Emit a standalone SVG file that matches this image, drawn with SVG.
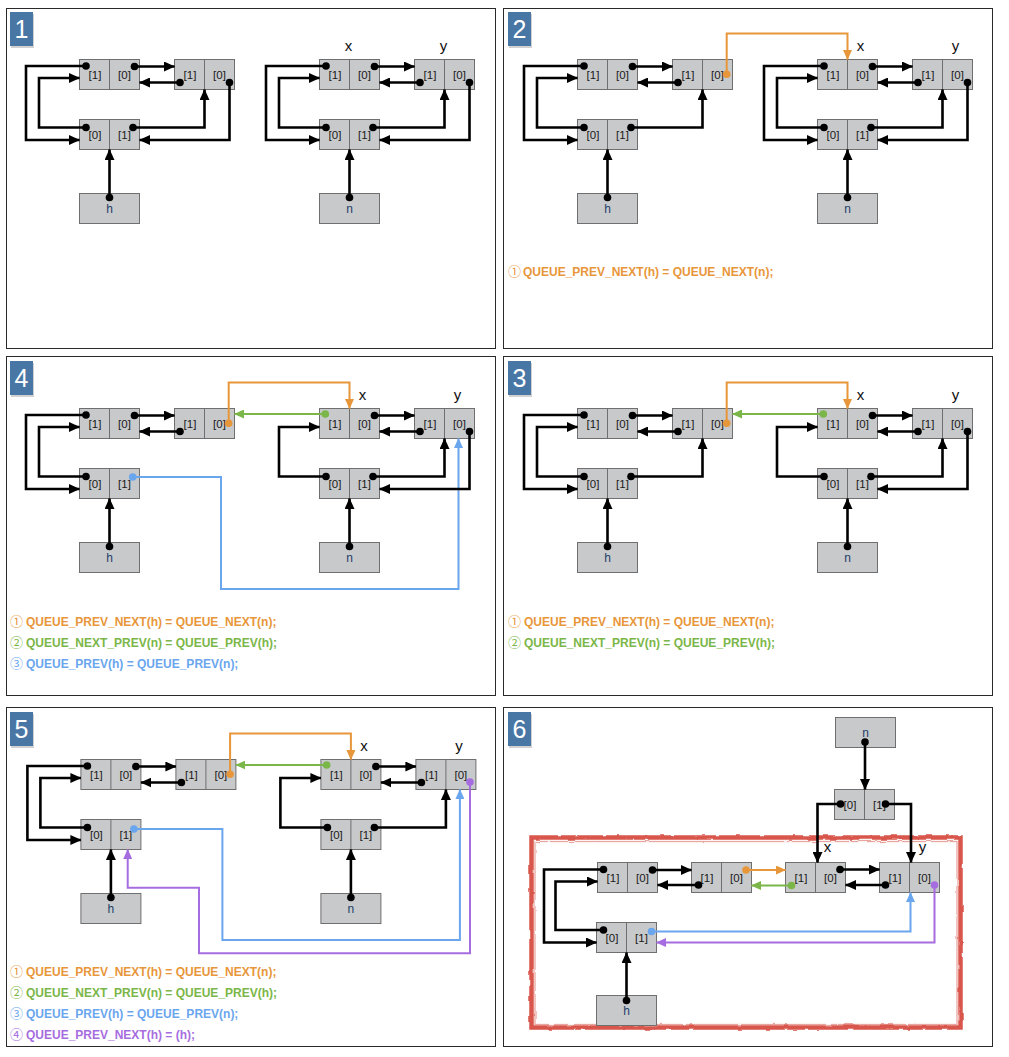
<svg xmlns="http://www.w3.org/2000/svg" width="1009" height="1057" viewBox="0 0 1009 1057">
<style>
.fr{fill:none;stroke:#2a2a2a;stroke-width:1}
.bx{fill:#c8c9cb;stroke:#6f6f6f;stroke-width:1}
.dv{fill:none;stroke:#6f6f6f;stroke-width:1}
.lb{font-family:"Liberation Sans",Arial,sans-serif;font-size:11.5px;fill:#1a1a1a;text-anchor:middle}
.nm{font-family:"Liberation Sans",Arial,sans-serif;font-size:12px;fill:#1d4068;text-anchor:middle}
.xy{font-family:"Liberation Sans",Arial,sans-serif;font-size:15px;fill:#111;text-anchor:middle}
.bn{font-family:"Liberation Sans",Arial,sans-serif;font-size:25px;fill:#fff;text-anchor:middle}
.bg{fill:#4877a6}
.bs{fill:#000;opacity:.18}
.k{fill:none;stroke:#000;stroke-width:2.6;marker-end:url(#ak)}
.o{fill:none;stroke:#e8963a;stroke-width:2;marker-end:url(#ao)}
.g{fill:none;stroke:#7ab648;stroke-width:2;marker-end:url(#ag)}
.b{fill:none;stroke:#6aa6ee;stroke-width:2;marker-end:url(#ab)}
.p{fill:none;stroke:#a66de0;stroke-width:2;marker-end:url(#ap)}
.dk{fill:#000}.do{fill:#e8963a}.dg{fill:#7ab648}.db{fill:#6aa6ee}.dp{fill:#a66de0}
.t{font-family:"Liberation Sans",Arial,"DejaVu Sans","Noto Sans CJK SC",sans-serif;font-size:12px;font-weight:bold}
.c{font-weight:normal;font-family:"Noto Sans CJK SC","DejaVu Sans",sans-serif;font-size:13px}
.to{fill:#e8963a}.tg{fill:#7ab648}.tb{fill:#6aa6ee}.tp{fill:#a66de0}
</style>
<defs>
<marker id="ak" markerUnits="userSpaceOnUse" markerWidth="11" markerHeight="10" viewBox="0 0 11 10" refX="10.5" refY="5" orient="auto"><path d="M0,0L11,5L0,10z" fill="#000"/></marker>
<marker id="ao" markerUnits="userSpaceOnUse" markerWidth="10" markerHeight="9" viewBox="0 0 10 9" refX="9.5" refY="4.5" orient="auto"><path d="M0,0L10,4.5L0,9z" fill="#e8963a"/></marker>
<marker id="ag" markerUnits="userSpaceOnUse" markerWidth="10" markerHeight="9" viewBox="0 0 10 9" refX="9.5" refY="4.5" orient="auto"><path d="M0,0L10,4.5L0,9z" fill="#7ab648"/></marker>
<marker id="ab" markerUnits="userSpaceOnUse" markerWidth="10" markerHeight="9" viewBox="0 0 10 9" refX="9.5" refY="4.5" orient="auto"><path d="M0,0L10,4.5L0,9z" fill="#6aa6ee"/></marker>
<marker id="ap" markerUnits="userSpaceOnUse" markerWidth="10" markerHeight="9" viewBox="0 0 10 9" refX="9.5" refY="4.5" orient="auto"><path d="M0,0L10,4.5L0,9z" fill="#a66de0"/></marker>
<filter id="rough" x="-5%" y="-5%" width="110%" height="110%"><feTurbulence type="fractalNoise" baseFrequency="0.09" numOctaves="2" seed="4"/><feDisplacementMap in="SourceGraphic" scale="3"/></filter>
</defs>
<rect width="1009" height="1057" fill="#fff"/>

<g id="frames">
<rect class="fr" x="6.5" y="8.5" width="489" height="340"/>
<rect class="fr" x="503.5" y="8.5" width="489" height="340"/>
<rect class="fr" x="6.5" y="356.5" width="489" height="339"/>
<rect class="fr" x="503.5" y="356.5" width="489" height="339"/>
<rect class="fr" x="6.5" y="707.5" width="489" height="339"/>
<rect class="fr" x="503.5" y="707.5" width="489" height="339"/>
</g>

<g id="badges">
<g id="badge1"><rect class="bs" x="11" y="14" width="23" height="34"/><rect class="bg" x="10" y="12" width="23" height="34"/><text class="bn" x="21.5" y="38">1</text></g>
<g id="badge2"><rect class="bs" x="509" y="14" width="23" height="34"/><rect class="bg" x="508" y="12" width="23" height="34"/><text class="bn" x="519.5" y="38">2</text></g>
<g id="badge4"><rect class="bs" x="11" y="363" width="23" height="34"/><rect class="bg" x="10" y="361" width="23" height="34"/><text class="bn" x="21.5" y="387">4</text></g>
<g id="badge3"><rect class="bs" x="509" y="363" width="23" height="34"/><rect class="bg" x="508" y="361" width="23" height="34"/><text class="bn" x="519.5" y="387">3</text></g>
<g id="badge5"><rect class="bs" x="11" y="714" width="23" height="34"/><rect class="bg" x="10" y="712" width="23" height="34"/><text class="bn" x="21.5" y="738">5</text></g>
<g id="badge6"><rect class="bs" x="509" y="714" width="23" height="34"/><rect class="bg" x="508" y="712" width="23" height="34"/><text class="bn" x="519.5" y="738">6</text></g>
</g>

<!-- PANEL 1 -->
<g id="panel1">
<g id="p1-nodes">
<g id="p1-a"><rect class="bx" x="79.5" y="59.5" width="60" height="30"/><path class="dv" d="M109.5 59.5V89.5"/><text class="lb" x="95" y="78.5">[1]</text><text class="lb" x="124.5" y="78.5">[0]</text></g>
<g id="p1-b"><rect class="bx" x="174.5" y="59.5" width="60" height="30"/><path class="dv" d="M204.5 59.5V89.5"/><text class="lb" x="190" y="78.5">[1]</text><text class="lb" x="219.5" y="78.5">[0]</text></g>
<g id="p1-c"><rect class="bx" x="79.5" y="119.5" width="60" height="30"/><path class="dv" d="M109.5 119.5V149.5"/><text class="lb" x="95" y="138.5">[0]</text><text class="lb" x="124.5" y="138.5">[1]</text></g>
<g id="p1-h"><rect class="bx" x="79.5" y="193.5" width="60" height="30"/><text class="nm" x="109.5" y="212.5">h</text></g>
<g id="p1-x"><rect class="bx" x="319.5" y="59.5" width="60" height="30"/><path class="dv" d="M349.5 59.5V89.5"/><text class="lb" x="335" y="78.5">[1]</text><text class="lb" x="364.5" y="78.5">[0]</text></g>
<g id="p1-y"><rect class="bx" x="414.5" y="59.5" width="60" height="30"/><path class="dv" d="M444.5 59.5V89.5"/><text class="lb" x="430" y="78.5">[1]</text><text class="lb" x="459.5" y="78.5">[0]</text></g>
<g id="p1-d"><rect class="bx" x="319.5" y="119.5" width="60" height="30"/><path class="dv" d="M349.5 119.5V149.5"/><text class="lb" x="335" y="138.5">[0]</text><text class="lb" x="364.5" y="138.5">[1]</text></g>
<g id="p1-n"><rect class="bx" x="319.5" y="193.5" width="60" height="30"/><text class="nm" x="349.5" y="212.5">n</text></g>
<text class="xy" x="348.5" y="51">x</text><text class="xy" x="443.5" y="51">y</text>
</g>
<g id="p1-connectors">
<path class="k" d="M86 66H26V140H79.5"/><circle class="dk" cx="86" cy="66" r="3.8"/>
<path class="k" d="M86 127.5H39V78H79.5"/><circle class="dk" cx="86" cy="127.5" r="3.8"/>
<path class="k" d="M134.5 66.5H174.5"/><circle class="dk" cx="134.5" cy="66.5" r="3.8"/>
<path class="k" d="M180 82.5H139.5"/><circle class="dk" cx="180" cy="82.5" r="3.8"/>
<path class="k" d="M229.5 82.5V140H139.5"/><circle class="dk" cx="229.5" cy="82.5" r="3.8"/>
<path class="k" d="M133 127.5H204.5V89.5"/><circle class="dk" cx="133" cy="127.5" r="3.8"/>
<path class="k" d="M109.5 197.5V149.5"/><circle class="dk" cx="109.5" cy="197.5" r="3.8"/>
<path class="k" d="M326 66H266V140H319.5"/><circle class="dk" cx="326" cy="66" r="3.8"/>
<path class="k" d="M326 127.5H279V78H319.5"/><circle class="dk" cx="326" cy="127.5" r="3.8"/>
<path class="k" d="M374.5 66.5H414.5"/><circle class="dk" cx="374.5" cy="66.5" r="3.8"/>
<path class="k" d="M420 82.5H379.5"/><circle class="dk" cx="420" cy="82.5" r="3.8"/>
<path class="k" d="M469.5 82.5V140H379.5"/><circle class="dk" cx="469.5" cy="82.5" r="3.8"/>
<path class="k" d="M373 127.5H444.5V89.5"/><circle class="dk" cx="373" cy="127.5" r="3.8"/>
<path class="k" d="M349.5 197.5V149.5"/><circle class="dk" cx="349.5" cy="197.5" r="3.8"/>
</g>
</g>

<!-- PANEL 2 -->
<g id="panel2" transform="translate(498,0)">
<g id="p2-nodes">
<g id="p2-a"><rect class="bx" x="79.5" y="59.5" width="60" height="30"/><path class="dv" d="M109.5 59.5V89.5"/><text class="lb" x="95" y="78.5">[1]</text><text class="lb" x="124.5" y="78.5">[0]</text></g>
<g id="p2-b"><rect class="bx" x="174.5" y="59.5" width="60" height="30"/><path class="dv" d="M204.5 59.5V89.5"/><text class="lb" x="190" y="78.5">[1]</text><text class="lb" x="219.5" y="78.5">[0]</text></g>
<g id="p2-c"><rect class="bx" x="79.5" y="119.5" width="60" height="30"/><path class="dv" d="M109.5 119.5V149.5"/><text class="lb" x="95" y="138.5">[0]</text><text class="lb" x="124.5" y="138.5">[1]</text></g>
<g id="p2-h"><rect class="bx" x="79.5" y="193.5" width="60" height="30"/><text class="nm" x="109.5" y="212.5">h</text></g>
<g id="p2-x"><rect class="bx" x="319.5" y="59.5" width="60" height="30"/><path class="dv" d="M349.5 59.5V89.5"/><text class="lb" x="335" y="78.5">[1]</text><text class="lb" x="364.5" y="78.5">[0]</text></g>
<g id="p2-y"><rect class="bx" x="414.5" y="59.5" width="60" height="30"/><path class="dv" d="M444.5 59.5V89.5"/><text class="lb" x="430" y="78.5">[1]</text><text class="lb" x="459.5" y="78.5">[0]</text></g>
<g id="p2-d"><rect class="bx" x="319.5" y="119.5" width="60" height="30"/><path class="dv" d="M349.5 119.5V149.5"/><text class="lb" x="335" y="138.5">[0]</text><text class="lb" x="364.5" y="138.5">[1]</text></g>
<g id="p2-n"><rect class="bx" x="319.5" y="193.5" width="60" height="30"/><text class="nm" x="349.5" y="212.5">n</text></g>
<text class="xy" x="362.5" y="51">x</text><text class="xy" x="457.5" y="51">y</text>
</g>
<g id="p2-connectors">
<path class="k" d="M86 66H26V140H79.5"/><circle class="dk" cx="86" cy="66" r="3.8"/>
<path class="k" d="M86 127.5H39V78H79.5"/><circle class="dk" cx="86" cy="127.5" r="3.8"/>
<path class="k" d="M134.5 66.5H174.5"/><circle class="dk" cx="134.5" cy="66.5" r="3.8"/>
<path class="k" d="M180 82.5H139.5"/><circle class="dk" cx="180" cy="82.5" r="3.8"/>
<path class="k" d="M133 127.5H204.5V89.5"/><circle class="dk" cx="133" cy="127.5" r="3.8"/>
<path class="k" d="M109.5 197.5V149.5"/><circle class="dk" cx="109.5" cy="197.5" r="3.8"/>
<path class="o" d="M228.7 74.3V33.5H349.5V59.5"/><circle class="do" cx="228.7" cy="74.3" r="3.8"/>
<path class="k" d="M326 66H266V140H319.5"/><circle class="dk" cx="326" cy="66" r="3.8"/>
<path class="k" d="M326 127.5H279V78H319.5"/><circle class="dk" cx="326" cy="127.5" r="3.8"/>
<path class="k" d="M374.5 66.5H414.5"/><circle class="dk" cx="374.5" cy="66.5" r="3.8"/>
<path class="k" d="M420 82.5H379.5"/><circle class="dk" cx="420" cy="82.5" r="3.8"/>
<path class="k" d="M469.5 82.5V140H379.5"/><circle class="dk" cx="469.5" cy="82.5" r="3.8"/>
<path class="k" d="M373 127.5H444.5V89.5"/><circle class="dk" cx="373" cy="127.5" r="3.8"/>
<path class="k" d="M349.5 197.5V149.5"/><circle class="dk" cx="349.5" cy="197.5" r="3.8"/>
</g>
</g>

<!-- PANEL 4 -->
<g id="panel4" transform="translate(0,349)">
<g id="p4-nodes">
<g id="p4-a"><rect class="bx" x="79.5" y="59.5" width="60" height="30"/><path class="dv" d="M109.5 59.5V89.5"/><text class="lb" x="95" y="78.5">[1]</text><text class="lb" x="124.5" y="78.5">[0]</text></g>
<g id="p4-b"><rect class="bx" x="174.5" y="59.5" width="60" height="30"/><path class="dv" d="M204.5 59.5V89.5"/><text class="lb" x="190" y="78.5">[1]</text><text class="lb" x="219.5" y="78.5">[0]</text></g>
<g id="p4-c"><rect class="bx" x="79.5" y="119.5" width="60" height="30"/><path class="dv" d="M109.5 119.5V149.5"/><text class="lb" x="95" y="138.5">[0]</text><text class="lb" x="124.5" y="138.5">[1]</text></g>
<g id="p4-h"><rect class="bx" x="79.5" y="193.5" width="60" height="30"/><text class="nm" x="109.5" y="212.5">h</text></g>
<g id="p4-x"><rect class="bx" x="319.5" y="59.5" width="60" height="30"/><path class="dv" d="M349.5 59.5V89.5"/><text class="lb" x="335" y="78.5">[1]</text><text class="lb" x="364.5" y="78.5">[0]</text></g>
<g id="p4-y"><rect class="bx" x="414.5" y="59.5" width="60" height="30"/><path class="dv" d="M444.5 59.5V89.5"/><text class="lb" x="430" y="78.5">[1]</text><text class="lb" x="459.5" y="78.5">[0]</text></g>
<g id="p4-d"><rect class="bx" x="319.5" y="119.5" width="60" height="30"/><path class="dv" d="M349.5 119.5V149.5"/><text class="lb" x="335" y="138.5">[0]</text><text class="lb" x="364.5" y="138.5">[1]</text></g>
<g id="p4-n"><rect class="bx" x="319.5" y="193.5" width="60" height="30"/><text class="nm" x="349.5" y="212.5">n</text></g>
<text class="xy" x="362.5" y="51">x</text><text class="xy" x="457.5" y="51">y</text>
</g>
<g id="p4-connectors">
<path class="k" d="M86 66H26V140H79.5"/><circle class="dk" cx="86" cy="66" r="3.8"/>
<path class="k" d="M86 127.5H39V78H79.5"/><circle class="dk" cx="86" cy="127.5" r="3.8"/>
<path class="k" d="M134.5 66.5H174.5"/><circle class="dk" cx="134.5" cy="66.5" r="3.8"/>
<path class="k" d="M180 82.5H139.5"/><circle class="dk" cx="180" cy="82.5" r="3.8"/>
<path class="k" d="M109.5 197.5V149.5"/><circle class="dk" cx="109.5" cy="197.5" r="3.8"/>
<path class="o" d="M228.7 74.3V33.5H349.5V59.5"/><circle class="do" cx="228.7" cy="74.3" r="3.8"/>
<path class="g" d="M325.3 65H234.5"/><circle class="dg" cx="325.3" cy="65" r="3.8"/>
<path class="b" d="M132.7 128H221V240H458.5V89.5"/><circle class="db" cx="132.7" cy="128" r="3.8"/>
<path class="k" d="M326 127.5H279V78H319.5"/><circle class="dk" cx="326" cy="127.5" r="3.8"/>
<path class="k" d="M374.5 66.5H414.5"/><circle class="dk" cx="374.5" cy="66.5" r="3.8"/>
<path class="k" d="M420 82.5H379.5"/><circle class="dk" cx="420" cy="82.5" r="3.8"/>
<path class="k" d="M469.5 82.5V140H379.5"/><circle class="dk" cx="469.5" cy="82.5" r="3.8"/>
<path class="k" d="M373 127.5H444.5V89.5"/><circle class="dk" cx="373" cy="127.5" r="3.8"/>
<path class="k" d="M349.5 197.5V149.5"/><circle class="dk" cx="349.5" cy="197.5" r="3.8"/>
</g>
</g>

<!-- PANEL 3 -->
<g id="panel3" transform="translate(498,349)">
<g id="p3-nodes">
<g id="p3-a"><rect class="bx" x="79.5" y="59.5" width="60" height="30"/><path class="dv" d="M109.5 59.5V89.5"/><text class="lb" x="95" y="78.5">[1]</text><text class="lb" x="124.5" y="78.5">[0]</text></g>
<g id="p3-b"><rect class="bx" x="174.5" y="59.5" width="60" height="30"/><path class="dv" d="M204.5 59.5V89.5"/><text class="lb" x="190" y="78.5">[1]</text><text class="lb" x="219.5" y="78.5">[0]</text></g>
<g id="p3-c"><rect class="bx" x="79.5" y="119.5" width="60" height="30"/><path class="dv" d="M109.5 119.5V149.5"/><text class="lb" x="95" y="138.5">[0]</text><text class="lb" x="124.5" y="138.5">[1]</text></g>
<g id="p3-h"><rect class="bx" x="79.5" y="193.5" width="60" height="30"/><text class="nm" x="109.5" y="212.5">h</text></g>
<g id="p3-x"><rect class="bx" x="319.5" y="59.5" width="60" height="30"/><path class="dv" d="M349.5 59.5V89.5"/><text class="lb" x="335" y="78.5">[1]</text><text class="lb" x="364.5" y="78.5">[0]</text></g>
<g id="p3-y"><rect class="bx" x="414.5" y="59.5" width="60" height="30"/><path class="dv" d="M444.5 59.5V89.5"/><text class="lb" x="430" y="78.5">[1]</text><text class="lb" x="459.5" y="78.5">[0]</text></g>
<g id="p3-d"><rect class="bx" x="319.5" y="119.5" width="60" height="30"/><path class="dv" d="M349.5 119.5V149.5"/><text class="lb" x="335" y="138.5">[0]</text><text class="lb" x="364.5" y="138.5">[1]</text></g>
<g id="p3-n"><rect class="bx" x="319.5" y="193.5" width="60" height="30"/><text class="nm" x="349.5" y="212.5">n</text></g>
<text class="xy" x="362.5" y="51">x</text><text class="xy" x="457.5" y="51">y</text>
</g>
<g id="p3-connectors">
<path class="k" d="M86 66H26V140H79.5"/><circle class="dk" cx="86" cy="66" r="3.8"/>
<path class="k" d="M86 127.5H39V78H79.5"/><circle class="dk" cx="86" cy="127.5" r="3.8"/>
<path class="k" d="M134.5 66.5H174.5"/><circle class="dk" cx="134.5" cy="66.5" r="3.8"/>
<path class="k" d="M180 82.5H139.5"/><circle class="dk" cx="180" cy="82.5" r="3.8"/>
<path class="k" d="M133 127.5H204.5V89.5"/><circle class="dk" cx="133" cy="127.5" r="3.8"/>
<path class="k" d="M109.5 197.5V149.5"/><circle class="dk" cx="109.5" cy="197.5" r="3.8"/>
<path class="o" d="M228.7 74.3V33.5H349.5V59.5"/><circle class="do" cx="228.7" cy="74.3" r="3.8"/>
<path class="g" d="M325.3 65H234.5"/><circle class="dg" cx="325.3" cy="65" r="3.8"/>
<path class="k" d="M326 127.5H279V78H319.5"/><circle class="dk" cx="326" cy="127.5" r="3.8"/>
<path class="k" d="M374.5 66.5H414.5"/><circle class="dk" cx="374.5" cy="66.5" r="3.8"/>
<path class="k" d="M420 82.5H379.5"/><circle class="dk" cx="420" cy="82.5" r="3.8"/>
<path class="k" d="M469.5 82.5V140H379.5"/><circle class="dk" cx="469.5" cy="82.5" r="3.8"/>
<path class="k" d="M373 127.5H444.5V89.5"/><circle class="dk" cx="373" cy="127.5" r="3.8"/>
<path class="k" d="M349.5 197.5V149.5"/><circle class="dk" cx="349.5" cy="197.5" r="3.8"/>
</g>
</g>

<!-- PANEL 5 -->
<g id="panel5" transform="translate(1.4,700)">
<g id="p5-nodes">
<g id="p5-a"><rect class="bx" x="79.5" y="59.5" width="60" height="30"/><path class="dv" d="M109.5 59.5V89.5"/><text class="lb" x="95" y="78.5">[1]</text><text class="lb" x="124.5" y="78.5">[0]</text></g>
<g id="p5-b"><rect class="bx" x="174.5" y="59.5" width="60" height="30"/><path class="dv" d="M204.5 59.5V89.5"/><text class="lb" x="190" y="78.5">[1]</text><text class="lb" x="219.5" y="78.5">[0]</text></g>
<g id="p5-c"><rect class="bx" x="79.5" y="119.5" width="60" height="30"/><path class="dv" d="M109.5 119.5V149.5"/><text class="lb" x="95" y="138.5">[0]</text><text class="lb" x="124.5" y="138.5">[1]</text></g>
<g id="p5-h"><rect class="bx" x="79.5" y="193.5" width="60" height="30"/><text class="nm" x="109.5" y="212.5">h</text></g>
<g id="p5-x"><rect class="bx" x="319.5" y="59.5" width="60" height="30"/><path class="dv" d="M349.5 59.5V89.5"/><text class="lb" x="335" y="78.5">[1]</text><text class="lb" x="364.5" y="78.5">[0]</text></g>
<g id="p5-y"><rect class="bx" x="414.5" y="59.5" width="60" height="30"/><path class="dv" d="M444.5 59.5V89.5"/><text class="lb" x="430" y="78.5">[1]</text><text class="lb" x="459.5" y="78.5">[0]</text></g>
<g id="p5-d"><rect class="bx" x="319.5" y="119.5" width="60" height="30"/><path class="dv" d="M349.5 119.5V149.5"/><text class="lb" x="335" y="138.5">[0]</text><text class="lb" x="364.5" y="138.5">[1]</text></g>
<g id="p5-n"><rect class="bx" x="319.5" y="193.5" width="60" height="30"/><text class="nm" x="349.5" y="212.5">n</text></g>
<text class="xy" x="362.5" y="51">x</text><text class="xy" x="457.5" y="51">y</text>
</g>
<g id="p5-connectors">
<path class="k" d="M86 66H26V140H79.5"/><circle class="dk" cx="86" cy="66" r="3.8"/>
<path class="k" d="M86 127.5H39V78H79.5"/><circle class="dk" cx="86" cy="127.5" r="3.8"/>
<path class="k" d="M134.5 66.5H174.5"/><circle class="dk" cx="134.5" cy="66.5" r="3.8"/>
<path class="k" d="M180 82.5H139.5"/><circle class="dk" cx="180" cy="82.5" r="3.8"/>
<path class="k" d="M109.5 197.5V149.5"/><circle class="dk" cx="109.5" cy="197.5" r="3.8"/>
<path class="o" d="M228.7 74.3V33.5H349.5V59.5"/><circle class="do" cx="228.7" cy="74.3" r="3.8"/>
<path class="g" d="M325.3 65H234.5"/><circle class="dg" cx="325.3" cy="65" r="3.8"/>
<path class="b" d="M132.5 129H221V240H458.5V89.5"/><circle class="db" cx="132.5" cy="129" r="3.8"/>
<path class="p" d="M468.6 82V253.3H197.6V187.7H126.3V149.5"/><circle class="dp" cx="468.6" cy="82" r="3.8"/>
<path class="k" d="M326 127.5H279V78H319.5"/><circle class="dk" cx="326" cy="127.5" r="3.8"/>
<path class="k" d="M374.5 66.5H414.5"/><circle class="dk" cx="374.5" cy="66.5" r="3.8"/>
<path class="k" d="M420 82.5H379.5"/><circle class="dk" cx="420" cy="82.5" r="3.8"/>
<path class="k" d="M373 127.5H444.5V89.5"/><circle class="dk" cx="373" cy="127.5" r="3.8"/>
<path class="k" d="M349.5 197.5V149.5"/><circle class="dk" cx="349.5" cy="197.5" r="3.8"/>
</g>
</g>

<!-- PANEL 6 -->
<g id="panel6">
<g id="p6-frame-mark" filter="url(#rough)">
<rect x="531.5" y="837.5" width="429" height="190" fill="none" stroke="#d9574d" stroke-width="4.5"/>
<rect x="535" y="841.5" width="422" height="183" fill="none" stroke="#e08078" stroke-width="1.3" opacity=".7"/>
</g>
<g id="p6-nodes">
<g id="p6-n"><rect class="bx" x="835.5" y="717.5" width="60" height="30"/><text class="nm" x="865.5" y="736.5">n</text></g>
<g id="p6-m"><rect class="bx" x="834.5" y="789.5" width="60" height="30"/><path class="dv" d="M864.5 789.5V819.5"/><text class="lb" x="850" y="808.5">[0]</text><text class="lb" x="879.5" y="808.5">[1]</text></g>
<g id="p6-a"><rect class="bx" x="597.5" y="862.5" width="60" height="30"/><path class="dv" d="M627.5 862.5V892.5"/><text class="lb" x="613" y="881.5">[1]</text><text class="lb" x="642.5" y="881.5">[0]</text></g>
<g id="p6-b"><rect class="bx" x="691.5" y="862.5" width="60" height="30"/><path class="dv" d="M721.5 862.5V892.5"/><text class="lb" x="707" y="881.5">[1]</text><text class="lb" x="736.5" y="881.5">[0]</text></g>
<g id="p6-x"><rect class="bx" x="785.5" y="862.5" width="60" height="30"/><path class="dv" d="M815.5 862.5V892.5"/><text class="lb" x="801" y="881.5">[1]</text><text class="lb" x="830.5" y="881.5">[0]</text></g>
<g id="p6-y"><rect class="bx" x="879.5" y="862.5" width="60" height="30"/><path class="dv" d="M909.5 862.5V892.5"/><text class="lb" x="895" y="881.5">[1]</text><text class="lb" x="924.5" y="881.5">[0]</text></g>
<g id="p6-c"><rect class="bx" x="596.5" y="922.5" width="60" height="30"/><path class="dv" d="M626.5 922.5V952.5"/><text class="lb" x="612" y="941.5">[0]</text><text class="lb" x="641.5" y="941.5">[1]</text></g>
<g id="p6-h"><rect class="bx" x="596.5" y="995.5" width="60" height="30"/><text class="nm" x="626.5" y="1014.5">h</text></g>
<text class="xy" x="827.5" y="852">x</text><text class="xy" x="922.5" y="852">y</text>
</g>
<g id="p6-connectors">
<path class="k" d="M865 742V789.5"/><circle class="dk" cx="865" cy="742" r="3.8"/>
<path class="k" d="M840.5 804H817.5V862.5"/><circle class="dk" cx="840.5" cy="804" r="3.8"/>
<path class="k" d="M885.5 804H911V862.5"/><circle class="dk" cx="885.5" cy="804" r="3.8"/>
<path class="k" d="M840 869.5H879.5"/><circle class="dk" cx="840" cy="869.5" r="3.8"/>
<path class="k" d="M885.5 885H845.5"/><circle class="dk" cx="885.5" cy="885" r="3.8"/>
<path class="k" d="M652.5 870H691.5"/><circle class="dk" cx="652.5" cy="870" r="3.8"/>
<path class="k" d="M698.5 885H657.5"/><circle class="dk" cx="698.5" cy="885" r="3.8"/>
<path class="k" d="M603.5 869.5H544V942.5H596.5"/><circle class="dk" cx="603.5" cy="869.5" r="3.8"/>
<path class="k" d="M603.5 930H555.5V881.5H597.5"/><circle class="dk" cx="603.5" cy="930" r="3.8"/>
<path class="k" d="M626.5 1000.5V952.5"/><circle class="dk" cx="626.5" cy="1000.5" r="3.8"/>
<path class="o" d="M746 870H785.5"/><circle class="do" cx="746" cy="870" r="3.8"/>
<path class="g" d="M791.5 885.5H751.5"/><circle class="dg" cx="791.5" cy="885.5" r="3.8"/>
<path class="b" d="M651.5 931.5H910.5V892.5"/><circle class="db" cx="651.5" cy="931.5" r="3.8"/>
<path class="p" d="M934.5 885V942.5H656.5"/><circle class="dp" cx="934.5" cy="885" r="3.8"/>
</g>
</g>

<g id="captions">
<text class="t to" x="508" y="276"><tspan class="c">① </tspan><tspan x="523">QUEUE_PREV_NEXT(h) = QUEUE_NEXT(n);</tspan></text>
<text class="t to" x="10" y="625.5"><tspan class="c">① </tspan><tspan x="26">QUEUE_PREV_NEXT(h) = QUEUE_NEXT(n);</tspan></text>
<text class="t tg" x="10" y="646.5"><tspan class="c">② </tspan><tspan x="26">QUEUE_NEXT_PREV(n) = QUEUE_PREV(h);</tspan></text>
<text class="t tb" x="10" y="668"><tspan class="c">③ </tspan><tspan x="26">QUEUE_PREV(h) = QUEUE_PREV(n);</tspan></text>
<text class="t to" x="508" y="625.5"><tspan class="c">① </tspan><tspan x="524">QUEUE_PREV_NEXT(h) = QUEUE_NEXT(n);</tspan></text>
<text class="t tg" x="508" y="646.5"><tspan class="c">② </tspan><tspan x="524">QUEUE_NEXT_PREV(n) = QUEUE_PREV(h);</tspan></text>
<text class="t to" x="10" y="975.5"><tspan class="c">① </tspan><tspan x="26">QUEUE_PREV_NEXT(h) = QUEUE_NEXT(n);</tspan></text>
<text class="t tg" x="10" y="996.5"><tspan class="c">② </tspan><tspan x="26">QUEUE_NEXT_PREV(n) = QUEUE_PREV(h);</tspan></text>
<text class="t tb" x="10" y="1018"><tspan class="c">③ </tspan><tspan x="26">QUEUE_PREV(h) = QUEUE_PREV(n);</tspan></text>
<text class="t tp" x="10" y="1039"><tspan class="c">④ </tspan><tspan x="26">QUEUE_PREV_NEXT(h) = (h);</tspan></text>
</g>
</svg>
